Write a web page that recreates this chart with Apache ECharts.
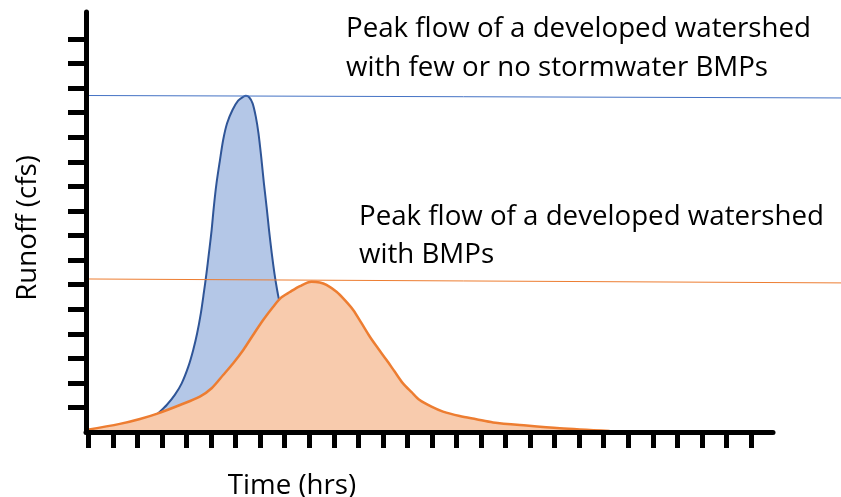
<!DOCTYPE html>
<html>
<head>
<meta charset="utf-8">
<script src="https://cdn.jsdelivr.net/npm/echarts@6/dist/echarts.min.js"></script>
<style>
  html, body { margin: 0; padding: 0; background: #ffffff; }
  #chart { width: 841px; height: 497px; }
</style>
</head>
<body>
<div id="chart"></div>
<script>
// Hydrograph: runoff over time for a developed watershed, with and without BMPs.
// Each point is [time (hrs), runoff (cfs)], in axis units.
const withoutBmps = [
  [-0.10, 0], [1.28, 0.04], [2.10, 0.20], [2.51, 0.45], [2.84, 0.76], [3.19, 1.10],
  [3.52, 1.51], [3.80, 1.98], [4.07, 2.66], [4.27, 3.34], [4.43, 4.02], [4.58, 4.83],
  [4.70, 5.65], [4.81, 6.46], [4.91, 7.28], [5.02, 8.22], [5.11, 9.17], [5.22, 10.13],
  [5.36, 11.07], [5.49, 11.89], [5.65, 12.57], [5.87, 13.11], [6.10, 13.49], [6.31, 13.65],
  [6.42, 13.69], [6.55, 13.63], [6.69, 13.38], [6.82, 12.84], [6.93, 12.16], [7.04, 11.21],
  [7.15, 10.13], [7.26, 9.17], [7.36, 8.22], [7.47, 7.28], [7.58, 6.46], [7.69, 5.78],
  [7.77, 5.37], [8.00, 4.36], [8.21, 3.54], [8.62, 1.91], [9.10, 0.81], [9.83, 0.16],
  [10.65, 0]
];
const withBmps = [
  [-0.10, 0.08], [1.28, 0.33], [2.10, 0.53], [2.84, 0.76], [3.73, 1.10], [4.54, 1.44],
  [5.02, 1.78], [5.49, 2.32], [5.90, 2.80], [6.31, 3.34], [6.71, 3.95], [7.12, 4.56],
  [7.53, 5.10], [7.84, 5.46], [8.21, 5.70], [8.62, 5.94], [9.09, 6.12], [9.43, 6.09],
  [9.70, 5.99], [10.11, 5.71], [10.45, 5.37], [10.79, 4.97], [11.13, 4.43], [11.47, 3.88],
  [11.80, 3.41], [12.15, 2.93], [12.48, 2.46], [12.82, 1.98], [13.17, 1.62], [13.50, 1.30],
  [13.98, 1.03], [14.45, 0.83], [15.13, 0.65], [15.81, 0.52], [16.49, 0.39], [17.85, 0.26],
  [19.21, 0.15], [21.24, 0.04]
];
// Peak-flow reference lines: runoff at the left and right ends of the line.
const peakLineWithout = [13.70, 13.60];
const peakLineWith = [6.23, 6.07];
// Tick positions along each axis.
const timeTicks = [0, 1, 2, 3, 4, 5, 6, 7, 8, 9, 10, 11, 12, 13, 14, 15, 16, 17, 18, 19, 20, 21, 22, 23, 24, 25, 26, 27];
const runoffTicks = [1, 2, 3, 4, 5, 6, 7, 8, 9, 10, 11, 12, 13, 14, 15, 16];
// Text.
const xTitle = 'Time (hrs)';
const yTitle = 'Runoff (cfs)';
const noteWithout = ['Peak flow of a developed watershed', 'with few or no stormwater BMPs'];
const noteWith = ['Peak flow of a developed watershed', 'with BMPs'];

const FONT = 'Open Sans';
const FONT_SIZE = 27.7;
const chart = echarts.init(document.getElementById('chart'), null, { renderer: 'canvas' });

const Y_MIN = 0, Y_MAX = 17.1;

function noteText(lines, left, top, gap) {
  return lines.map((t, i) => ({
    type: 'text',
    left: left,
    top: top + i * gap,
    silent: true,
    style: { text: t, fontFamily: FONT, fontSize: FONT_SIZE, fill: '#000000' }
  }));
}

chart.setOption({
  animation: false,
  backgroundColor: '#ffffff',
  grid: [
    { left: 86, right: 68, top: 12, bottom: 65 },
    { left: 86, right: 0, top: 12, bottom: 65 }
  ],
  xAxis: [
    {
      type: 'value', gridIndex: 0, min: -0.1, max: 27.9, z: 5,
      axisLine: { show: true, onZero: false, lineStyle: { color: '#000', width: 5 } },
      axisTick: { show: true, customValues: timeTicks, length: 16, inside: false,
                  lineStyle: { color: '#000', width: 5 } },
      axisLabel: { show: false },
      splitLine: { show: false }
    },
    { type: 'value', gridIndex: 1, min: 0, max: 1, show: false }
  ],
  yAxis: [
    {
      type: 'value', gridIndex: 0, min: Y_MIN, max: Y_MAX, z: 5,
      axisLine: { show: true, onZero: false, lineStyle: { color: '#000', width: 5 } },
      axisTick: { show: true, customValues: runoffTicks, length: 18, inside: false,
                  lineStyle: { color: '#000', width: 5 } },
      axisLabel: { show: false },
      splitLine: { show: false }
    },
    { type: 'value', gridIndex: 1, min: Y_MIN, max: Y_MAX, show: false }
  ],
  series: [
    {
      name: 'Without BMPs', type: 'line', xAxisIndex: 0, yAxisIndex: 0,
      data: withoutBmps, smooth: 0.3, symbol: 'none', z: 2,
      lineStyle: { color: '#2f5597', width: 2 },
      areaStyle: { color: '#b4c7e7', opacity: 1 }
    },
    {
      name: 'With BMPs', type: 'line', xAxisIndex: 0, yAxisIndex: 0,
      data: withBmps, smooth: 0.3, symbol: 'none', z: 3,
      lineStyle: { color: '#ed7d31', width: 2.5 },
      areaStyle: { color: '#f8cbad', opacity: 1 }
    },
    {
      name: 'Peak without BMPs', type: 'line', xAxisIndex: 1, yAxisIndex: 1,
      data: [[0, peakLineWithout[0]], [1, peakLineWithout[1]]], symbol: 'none', z: 4,
      lineStyle: { color: '#4472c4', width: 1 }
    },
    {
      name: 'Peak with BMPs', type: 'line', xAxisIndex: 1, yAxisIndex: 1,
      data: [[0, peakLineWith[0]], [1, peakLineWith[1]]], symbol: 'none', z: 4,
      lineStyle: { color: '#ed7d31', width: 1 }
    }
  ],
  graphic: [
    ...noteText(noteWithout, 346, 15, 39),
    ...noteText(noteWith, 359, 203, 38),
    {
      type: 'text', x: 292, y: 486, silent: true,
      style: { text: xTitle, fontFamily: FONT, fontSize: FONT_SIZE, fill: '#000000',
               align: 'center', verticalAlign: 'middle' }
    },
    {
      type: 'text', x: 28, y: 228, rotation: Math.PI / 2, silent: true,
      style: { text: yTitle, fontFamily: FONT, fontSize: FONT_SIZE, fill: '#000000',
               align: 'center', verticalAlign: 'middle' }
    }
  ]
});
</script>
</body>
</html>
